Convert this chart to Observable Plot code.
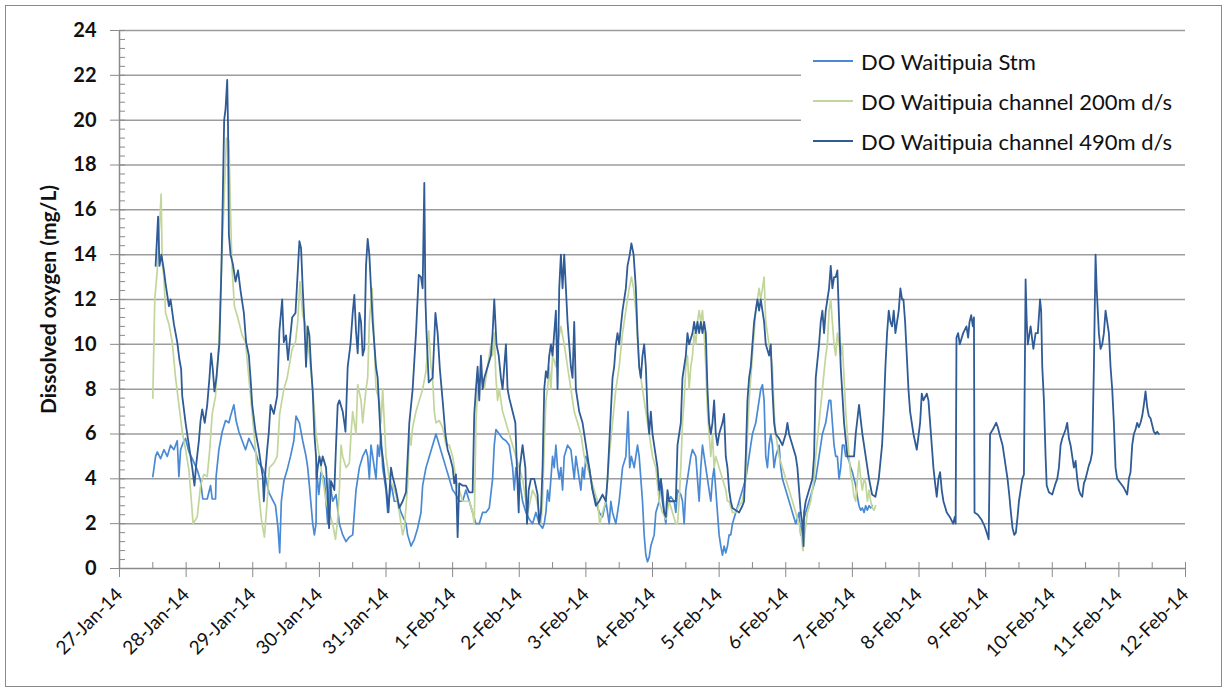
<!DOCTYPE html>
<html>
<head>
<meta charset="utf-8">
<script src="https://cdn.jsdelivr.net/npm/d3@7"></script>
<script src="https://cdn.jsdelivr.net/npm/@observablehq/plot@0.6"></script>
<style>
  html, body { margin: 0; padding: 0; background: #fff; }
  #wrap { position: relative; width: 1226px; height: 690px; font-family: Lato, sans-serif; }
  #frame { position: absolute; left: 5px; top: 5px; width: 1215px; height: 680px; border: 1px solid #8a8a8a; pointer-events: none; }
  #legend { position: absolute; left: 801px; top: 40px; width: 388px; height: 116px; background: #fff; }
  .item { position: absolute; left: 12px; height: 24px; display: flex; align-items: center; font-size: 22px; color: #111; white-space: nowrap; }
  .item svg { margin-right: 8px; }
</style>
</head>
<body>
<div id="wrap">
  <div id="chart"></div>
  <div id="legend"></div>
  <div id="frame"></div>
</div>
<script>
// hours since 27-Jan-14 00:00, dissolved oxygen (mg/L)
const seriesNames = ["DO Waitipuia Stm", "DO Waitipuia channel 200m d/s", "DO Waitipuia channel 490m d/s"];
const seriesColors = ["#4a8ad4", "#c2d69b", "#2f5b96"];

const stm = [[12.0,4.1],[13.0,5.0],[13.6,5.2],[14.8,4.9],[16.0,5.3],[17.2,5.0],[18.4,5.5],[19.6,5.3],[20.8,5.7],[21.4,4.1],[22.0,5.3],[23.2,5.7],[23.8,5.8],[25.0,5.2],[26.2,4.9],[28.0,4.4],[29.2,3.9],[30.0,3.1],[31.6,3.1],[32.8,3.7],[33.4,3.1],[34.6,3.1],[34.8,4.1],[35.8,5.3],[37.0,6.1],[38.2,6.6],[39.4,6.5],[40.0,6.8],[41.2,7.3],[42.0,6.6],[43.0,6.1],[44.2,5.7],[45.4,5.3],[46.6,5.8],[47.8,5.5],[49.0,5.2],[50.2,4.7],[51.4,4.5],[52.6,4.1],[53.8,3.4],[55.0,3.1],[56.2,2.8],[57.1,1.8],[57.7,0.7],[58.3,3.0],[59.2,3.9],[60.4,4.4],[61.6,5.0],[62.8,5.7],[63.6,6.8],
[64.8,6.5],[66.0,5.7],[67.2,5.0],[67.8,4.5],[68.4,3.7],[69.6,2.0],[70.2,1.5],[70.8,2.0],[71.0,4.4],[71.8,3.3],[72.6,4.3],[73.8,4.0],[75.0,2.0],[75.6,4.0],[76.8,3.0],[78.0,3.3],[79.2,2.0],[80.4,1.5],[81.6,1.2],[82.8,1.4],[84.0,1.5],[84.6,2.5],[85.2,3.5],[86.4,4.5],[87.6,5.0],[88.8,5.3],[89.4,5.0],[90.0,4.0],[90.6,5.5],[91.2,5.0],[92.4,4.0],[93.0,5.5],[93.6,5.0],[94.2,6.0],[94.8,4.5],[96.0,3.5],[96.6,2.5],[97.8,3.8],[99.0,3.0],[100.2,3.0],[101.4,2.5],[103.2,2.0],[103.8,1.5],[105.0,1.0],[106.2,1.3],[107.4,1.8],[108.6,2.5],[109.2,3.7],[110.4,4.5],[111.6,5.0],[112.8,5.5],[114.0,6.0],[115.2,5.5],[116.4,5.0],[117.6,4.5],[118.8,4.0],[120.0,3.5],[121.2,3.3],[122.4,3.0],[123.6,3.0],[124.8,3.5],[126.0,3.0],[127.2,2.5],
[128.4,2.0],[129.6,2.0],[130.8,2.5],[132.0,2.5],[133.2,2.7],[134.4,4.0],[135.0,5.5],[135.6,6.2],[136.8,6.0],[138.0,5.8],[139.2,5.7],[140.4,5.5],[141.6,4.5],[142.2,3.5],[142.8,4.5],[143.4,4.0],[144.0,4.0],[145.2,3.0],[146.4,2.5],[147.6,2.2],[148.8,2.0],[150.0,2.5],[151.2,2.0],[152.4,1.8],[153.0,2.0],[153.6,2.5],[154.2,3.5],[154.8,3.0],[155.4,4.0],[156.0,5.0],[156.6,4.5],[157.2,5.5],[157.8,4.5],[158.4,4.0],[159.0,4.5],[159.6,3.5],[160.2,5.0],[161.4,5.5],[162.6,5.3],[163.8,4.0],[164.4,5.0],[165.6,4.0],[166.2,3.5],[166.8,4.5],[167.4,4.0],[168.0,5.0],[169.2,4.5],[170.4,3.5],[171.6,3.0],[172.8,2.5],[174.0,2.3],[175.2,3.0],[176.4,2.0],[177.0,3.0],[177.6,2.5],[178.8,2.0],[180.0,3.0],[181.2,4.5],[182.4,5.0],[183.2,7.0],[183.8,4.5],[184.4,5.0],[185.4,4.5],[186.6,5.5],[187.2,5.0],[187.8,4.0],[188.4,3.0],[189.0,1.5],[189.6,0.6],[190.2,0.3],[190.8,0.5],[191.4,1.0],[192.6,1.5],[193.2,2.5],
[194.4,3.0],[195.0,4.0],[195.6,3.5],[196.2,2.5],[196.8,2.0],[197.4,3.0],[198.6,3.2],[199.8,3.0],[200.4,2.5],[201.0,3.5],[202.2,3.3],[202.8,3.0],[203.4,2.0],[204.0,3.5],[204.6,4.0],[205.2,4.5],[205.8,5.0],[206.4,5.3],[207.6,5.0],[208.2,4.0],[208.8,3.0],[209.4,4.5],[210.0,5.5],[210.6,5.0],[211.2,4.5],[212.4,3.5],[213.0,3.0],[213.6,4.0],[214.2,4.5],[214.8,3.5],[215.4,2.5],[216.0,1.5],[216.6,1.0],[217.2,0.6],[217.8,1.0],[218.4,0.7],[219.0,1.0],[219.6,1.5],[220.2,1.5],[220.8,2.0],[222.0,2.5],[223.2,3.0],[224.4,3.5],[225.6,4.0],[226.8,5.0],[228.0,6.0],[229.2,6.5],[230.4,7.5],[231.0,8.0],[231.6,8.2],[232.2,7.5],[232.8,5.0],[233.4,4.5],[234.0,5.5],[234.6,6.0],[235.2,5.5],[235.8,4.5],[236.4,5.0],[237.6,5.5],[238.2,4.5],[238.8,4.0],[240.0,3.5],[241.2,3.0],[242.4,2.5],[243.6,2.0],[244.8,2.5],[245.4,1.5],[246.0,2.0],[247.2,2.5],[248.4,3.0],[249.6,3.5],[250.8,4.0],[252.0,5.0],[253.2,6.0],[254.4,6.5],[255.6,7.5],[256.2,7.5],[256.8,6.5],[257.4,5.5],[258.0,5.0],
[258.6,5.0],[259.2,4.0],[259.8,4.5],[260.4,5.5],[261.0,5.5],[261.6,5.0],[262.2,5.0],[262.8,4.8],[263.4,4.5],[264.0,4.3],[264.6,4.0],[265.2,3.7],[265.8,3.2],[266.4,2.8],[267.0,2.6],[267.6,2.7],[268.2,2.5],[268.8,2.8],[269.4,2.6],[270.0,2.8],[270.6,2.7],[271.2,2.8]];

const ch200 = [[12.0,7.6],[12.7,12.0],[13.6,13.3],[15.0,16.7],[15.4,13.6],[16.0,13.0],[16.6,11.4],[17.8,10.9],[19.0,10.1],[20.2,8.5],[21.4,7.3],[22.6,6.1],[23.8,5.3],[25.0,4.4],[25.9,3.0],[26.5,2.0],[28.0,2.3],[29.2,3.7],[30.4,4.2],[31.6,4.1],[32.5,5.3],[33.4,6.9],[34.6,7.7],[35.8,10.1],[36.7,13.3],[37.6,16.2],[38.5,19.2],[39.4,19.1],[40.2,14.9],[40.6,13.3],[41.4,11.7],[42.6,11.2],[44.2,10.4],[45.4,10.1],[46.6,8.5],[47.8,6.9],[49.0,5.3],[49.9,3.7],[51.1,2.2],[52.2,1.4],[53.2,3.0],[54.0,4.5],[55.6,4.7],[56.8,5.0],[57.7,6.9],[59.2,8.0],[60.4,8.5],[62.2,9.8],[63.4,10.1],
[64.2,11.0],[65.0,12.8],[66.0,11.3],[67.2,10.8],[68.4,9.5],[69.6,8.0],[70.8,6.0],[72.0,5.0],[73.2,4.0],[74.4,3.0],[75.6,2.5],[76.8,2.0],[77.8,1.3],[78.6,2.2],[79.2,3.5],[79.8,5.5],[80.4,5.0],[81.6,4.5],[82.8,4.7],[83.4,6.0],[84.0,7.0],[85.2,6.0],[85.8,8.2],[87.0,7.5],[87.6,6.5],[88.8,8.0],[89.4,8.5],[90.0,11.0],[91.0,12.5],[91.8,10.0],[92.4,8.0],[93.6,7.5],[94.2,6.5],[94.8,8.0],[96.0,5.0],[97.2,4.0],[98.4,3.7],[99.6,3.3],[100.8,2.5],[102.0,1.5],[102.6,1.8],[103.8,3.7],[104.4,6.0],[105.0,5.5],[105.6,6.3],[106.8,7.0],[108.0,7.5],[109.2,8.0],[110.4,8.8],[111.4,10.6],[112.2,9.0],[112.8,8.5],[113.4,7.0],[114.0,6.5],[115.2,6.6],[116.4,6.3],[117.6,5.5],[118.8,5.5],[120.0,5.0],[121.2,4.0],[122.4,3.5],[123.6,3.0],[124.8,3.0],[126.0,3.0],[127.2,2.5],[127.8,2.0],
[128.4,6.5],[129.0,8.0],[130.2,8.5],[131.4,8.0],[132.6,9.0],[133.8,10.0],[134.4,9.5],[135.0,10.5],[135.6,8.5],[136.2,7.5],[136.8,8.0],[138.0,7.0],[139.2,6.5],[140.4,6.0],[141.6,5.5],[142.8,5.0],[144.0,4.5],[145.2,4.0],[146.4,3.0],[147.0,2.5],[147.6,2.8],[148.8,3.5],[150.0,3.2],[151.2,2.5],[151.8,2.0],[152.4,3.0],[153.0,5.5],[153.6,7.5],[154.2,8.0],[154.8,9.0],[155.4,8.0],[156.0,9.5],[157.2,9.0],[157.8,10.0],[159.0,10.8],[160.2,10.0],[161.4,9.0],[162.6,8.0],[163.8,7.0],[165.0,6.5],[166.2,6.0],[167.4,5.0],[168.6,4.5],[169.8,4.0],[171.0,3.5],[172.2,3.0],[173.0,2.0],[174.0,2.5],[175.2,3.0],[176.4,5.0],[177.6,6.5],[178.8,8.0],[180.0,9.0],[181.2,10.5],[182.4,11.5],[183.6,12.5],[184.4,13.0],[185.2,12.5],[186.0,11.5],[187.2,9.0],[188.4,8.0],[189.6,7.0],[190.8,6.0],[192.0,5.0],[193.2,4.5],
[194.4,3.0],[195.6,2.5],[196.8,2.2],[198.0,3.0],[199.2,2.5],[200.4,2.0],[201.0,2.0],[201.6,3.0],[202.2,4.5],[202.8,6.5],[203.4,7.5],[204.0,9.0],[204.6,9.5],[205.2,8.0],[205.8,9.0],[206.4,9.5],[207.0,10.5],[207.6,10.0],[208.2,11.0],[208.8,11.5],[209.4,11.0],[210.0,11.5],[210.6,10.5],[211.2,9.0],[211.8,7.0],[212.4,6.0],[213.0,5.0],[213.6,6.0],[214.2,4.5],[214.8,5.0],[216.0,4.5],[217.2,4.0],[218.4,3.5],[219.0,3.0],[219.6,3.0],[220.8,2.5],[222.0,2.5],[223.2,2.8],[224.4,3.0],[225.6,4.0],[226.2,6.0],[226.8,7.5],[227.4,8.5],[228.0,9.5],[228.6,10.5],[229.2,11.5],[229.8,12.0],[230.4,12.5],[231.0,12.0],[231.6,12.5],[232.2,13.0],[232.8,11.0],[234.0,10.0],[235.2,9.0],[235.8,7.0],[236.4,6.0],[237.6,5.0],[238.8,4.5],[240.0,4.0],[241.2,3.5],[242.4,3.0],[243.6,2.5],[244.8,2.0],[245.6,1.5],[246.2,0.8],[246.8,1.5],[247.8,2.5],[249.0,3.0],[250.2,4.0],[250.8,5.0],[252.0,6.5],[253.2,8.0],[254.4,9.5],[255.0,10.0],[255.6,11.5],[256.2,12.0],[256.8,11.0],[257.4,10.0],[258.0,9.5],
[258.6,10.5],[259.8,9.5],[260.4,10.0],[261.0,8.5],[261.6,7.0],[262.2,6.0],[262.8,5.0],[263.4,4.2],[264.0,3.8],[264.6,3.2],[265.2,3.0],[265.8,4.0],[266.4,4.8],[267.0,4.0],[267.6,3.5],[268.2,4.0],[268.8,3.8],[269.4,3.0],[270.0,3.5],[270.6,3.0],[271.2,2.7],[271.8,2.6],[272.4,2.8]];

const ch490 = [[13.0,13.5],[13.9,15.7],[14.4,13.5],[15.1,14.0],[16.0,13.3],[16.6,12.7],[17.8,11.7],[18.4,12.0],[19.6,10.9],[20.8,10.1],[21.6,9.3],[22.2,8.9],[22.6,7.7],[23.8,6.5],[25.0,5.5],[26.2,4.5],[27.0,3.7],[27.6,4.6],[28.6,5.7],[29.2,6.6],[29.8,7.1],[30.7,6.5],[31.6,7.3],[32.4,8.5],[33.0,9.6],[33.6,8.9],[34.2,7.9],[34.9,8.5],[36.0,10.1],[36.7,13.3],[37.2,16.5],[37.7,20.0],[38.2,20.5],[38.8,21.8],[39.1,19.7],[39.4,14.9],[40.0,14.0],[40.8,13.6],[41.8,12.8],[42.7,13.3],[43.6,12.4],[44.8,11.4],[45.6,10.1],[46.6,9.5],[47.2,8.5],[47.8,7.3],[49.0,6.1],[50.2,5.3],[51.1,4.5],[51.6,4.1],[52.0,3.0],[52.6,4.4],[53.2,5.3],[53.8,6.1],[54.4,7.3],[55.6,6.9],[56.8,7.7],[57.6,10.6],[58.6,12.0],[59.2,10.1],[60.0,10.4],[60.7,9.3],[62.2,11.2],[63.4,11.4],
[64.8,14.6],[65.4,14.3],[66.0,12.5],[66.6,11.0],[67.2,9.0],[67.8,10.8],[68.4,10.4],[69.0,9.0],[69.6,7.9],[70.2,6.0],[70.8,5.0],[71.0,4.0],[71.4,4.5],[72.0,5.0],[72.6,4.6],[73.2,5.0],[74.4,4.5],[75.0,3.2],[75.5,1.8],[76.2,3.9],[77.4,3.5],[78.0,5.5],[78.6,7.3],[79.2,7.5],[80.4,7.0],[81.0,6.5],[81.4,6.1],[82.2,9.0],[83.2,10.0],[84.0,11.4],[84.6,12.2],[85.2,10.6],[85.8,9.6],[86.4,11.4],[87.0,11.0],[87.6,9.5],[88.2,9.8],[88.8,13.5],[89.4,14.7],[90.0,14.0],[90.6,12.5],[91.2,11.0],[92.4,9.0],[93.0,8.5],[93.6,7.0],[94.2,5.5],[94.8,5.0],[95.4,4.3],[96.0,3.7],[96.9,2.5],[97.2,3.3],[97.8,4.5],[98.4,4.1],[99.6,3.5],[100.8,2.7],[102.0,3.0],[103.2,3.4],[104.4,6.5],[105.6,8.0],[106.8,10.5],[107.8,13.1],[108.6,13.0],[109.2,12.5],[109.8,17.2],[110.2,12.0],[110.6,10.5],[111.4,8.3],[112.8,8.5],[113.8,11.4],[114.6,10.5],[115.4,8.9],[116.4,7.5],[117.4,6.0],[118.2,5.3],[119.0,5.0],[120.0,4.5],[120.6,3.8],[121.2,4.2],[121.8,1.4],[122.4,3.8],[123.6,3.7],[124.8,3.7],[126.0,3.4],[127.2,3.4],[127.8,6.9],
[128.4,8.0],[129.0,9.0],[129.6,7.5],[130.2,9.5],[130.8,8.0],[131.4,8.5],[132.6,9.0],[133.8,9.5],[134.4,10.5],[135.0,12.0],[135.4,11.0],[135.8,10.0],[136.6,9.5],[137.4,8.5],[138.0,8.0],[138.6,9.0],[139.2,10.0],[139.8,8.0],[140.4,7.6],[141.6,7.0],[142.6,6.5],[143.0,5.0],[143.8,2.5],[144.2,4.5],[145.2,5.5],[146.2,4.5],[146.8,2.0],[147.4,3.5],[148.2,4.0],[149.4,4.0],[150.6,3.3],[151.2,2.0],[151.8,2.5],[152.4,4.5],[153.0,8.0],[153.6,8.8],[154.2,8.5],[154.8,9.5],[155.4,10.0],[156.0,9.5],[156.6,10.5],[157.2,11.5],[157.8,8.0],[158.4,12.5],[159.0,14.0],[159.6,12.5],[160.2,14.0],[160.8,12.5],[161.4,11.0],[162.0,10.0],[162.6,9.0],[163.2,8.5],[163.8,11.0],[164.4,8.0],[165.6,7.0],[166.8,6.5],[168.0,5.5],[169.2,4.5],[170.4,3.5],[171.6,2.8],[172.8,3.0],[174.0,3.3],[175.2,3.0],[175.8,4.0],[176.4,5.5],[177.6,8.5],[178.2,9.0],[178.8,10.0],[179.4,10.5],[180.0,10.0],[180.6,10.8],[181.2,11.5],[182.4,12.5],[183.0,13.5],[183.8,14.0],[184.4,14.5],[185.2,14.0],[186.0,12.5],[186.6,10.5],[187.2,9.0],[187.8,8.5],[188.4,9.5],[189.0,10.0],[189.6,9.0],[190.2,7.0],[190.8,6.0],[191.4,7.0],[192.0,6.0],[193.2,5.0],
[193.8,4.5],[194.4,3.5],[195.0,4.0],[195.6,3.0],[196.2,2.5],[196.8,2.3],[197.4,3.5],[198.0,3.0],[199.2,3.0],[200.4,3.0],[201.0,5.5],[201.6,6.0],[202.2,6.5],[202.8,8.5],[203.4,9.0],[204.0,9.5],[204.6,10.5],[205.2,10.0],[206.4,10.5],[207.0,11.0],[207.6,10.5],[208.2,11.0],[208.8,10.5],[209.4,11.0],[210.0,10.5],[210.6,11.0],[211.2,10.5],[211.8,8.0],[212.4,6.5],[213.0,6.0],[213.6,6.5],[214.2,7.5],[214.8,6.0],[215.4,5.5],[216.0,6.0],[217.2,6.5],[217.8,6.9],[218.4,5.0],[219.0,4.5],[219.6,3.5],[220.2,3.0],[220.8,2.7],[222.0,2.6],[223.2,2.5],[224.4,2.8],[225.0,3.0],[225.6,5.0],[226.2,7.5],[226.8,8.5],[227.4,9.0],[228.0,10.0],[228.6,11.0],[229.2,11.5],[229.8,12.0],[230.4,11.5],[231.0,12.0],[231.6,11.5],[232.2,11.0],[232.8,10.0],[234.0,9.5],[234.6,10.0],[235.2,8.0],[235.8,6.5],[236.4,6.0],[237.6,5.8],[238.8,5.5],[240.0,6.0],[240.6,6.5],[241.2,6.0],[242.4,5.5],[243.6,5.0],[244.2,4.5],[244.8,3.5],[245.4,2.5],[246.0,2.0],[246.4,1.0],[246.6,2.5],[247.2,3.0],[248.4,3.5],[249.6,4.0],[250.2,5.0],[250.8,8.5],[252.0,10.0],[252.6,11.0],[253.2,11.5],[253.8,10.5],[254.4,11.5],[255.0,12.0],[255.6,12.5],[256.2,13.5],[256.8,12.5],[257.4,13.0],[258.0,13.0],
[258.6,13.3],[259.8,9.0],[261.0,6.5],[262.2,5.0],[263.4,5.0],[264.6,5.0],[265.2,6.0],[266.4,7.3],[267.6,6.0],[268.8,5.0],[270.0,4.0],[271.1,3.3],[272.3,3.2],[273.5,4.0],[274.7,5.5],[275.3,7.0],[275.9,9.0],[276.5,10.5],[277.1,11.5],[277.7,11.0],[278.3,10.8],[278.9,11.5],[279.5,10.5],[280.1,11.0],[280.7,11.5],[281.3,12.5],[281.9,12.0],[282.4,12.0],[283.0,11.0],[283.6,9.5],[284.2,8.0],[284.8,7.0],[286.0,6.0],[287.2,5.3],[288.4,6.5],[289.0,7.8],[289.6,7.5],[290.8,7.8],[291.4,7.5],[292.0,6.5],[292.6,5.5],[293.2,4.5],[293.8,3.8],[294.4,3.2],[295.0,4.0],[295.6,4.3],[296.2,3.5],[296.8,3.0],[298.0,2.5],[299.1,2.3],[300.3,2.0],[300.9,2.3],[301.2,2.0],[301.5,10.3],[302.1,10.5],[302.7,10.0],[303.9,10.5],[305.1,10.8],[305.7,10.3],[306.2,11.0],[306.8,11.3],[307.4,10.8],[307.8,11.2],[308.0,2.5],[309.2,2.4],[310.4,2.2],[311.6,1.9],[312.4,1.6],[313.1,1.3],[313.6,6.0],[314.6,6.2],[315.8,6.5],[316.4,6.3],[317.0,6.0],[318.1,5.5],[318.7,5.0],[319.3,4.5],[319.9,4.0],[320.5,3.3],[321.1,2.5],[321.7,1.8],[322.3,1.5],[322.9,1.6],[323.5,2.3],
[324.0,3.0],[324.6,3.5],[325.2,4.0],[325.8,4.2],[326.4,12.9],[326.8,11.0],[327.2,10.0],[328.2,10.8],[329.2,9.8],[330.0,10.5],[330.8,10.5],[331.6,12.0],[332.0,11.5],[332.4,9.0],[333.0,7.5],[333.6,5.0],[334.0,3.7],[334.8,3.4],[336.0,3.3],[337.2,3.8],[337.8,4.0],[338.4,4.5],[339.0,5.5],[339.6,5.8],[340.2,6.0],[340.8,6.2],[341.4,6.5],[342.0,5.8],[342.6,5.5],[343.2,5.0],[343.8,4.5],[344.4,4.8],[345.0,4.0],[345.6,3.5],[346.2,3.3],[346.8,3.2],[347.4,3.8],[348.0,4.0],[348.6,4.3],[349.2,4.6],[349.8,4.8],[350.4,5.2],[351.0,9.0],[351.6,14.0],[352.0,12.5],[352.8,10.5],[353.4,9.8],[354.0,10.0],[354.6,10.5],[355.2,11.5],[355.8,11.0],[356.4,10.5],[357.0,9.0],[357.6,8.0],[358.2,6.5],[358.8,4.5],[359.4,4.0],[360.6,3.8],[361.8,3.6],[363.0,3.3],[363.6,4.0],[364.2,4.3],[364.8,5.5],[365.4,6.0],[366.0,6.2],[366.6,6.5],[367.2,6.3],[367.8,6.5],[368.4,6.8],[369.0,7.3],[369.6,7.9],[370.2,7.2],[370.8,6.8],[371.4,6.7],[372.0,6.4],[372.6,6.1],[373.2,6.0],[373.8,6.1],[374.4,6.0]];

const yTickValues = [0, 2, 4, 6, 8, 10, 12, 14, 16, 18, 20, 22, 24];
const startDate = "2014-01-27";
const endDate = "2014-02-12";

const t0 = new Date(startDate + "T00:00Z");
const t1 = new Date(endDate + "T00:00Z");
const toRows = (pairs) => pairs.map(([h, v]) => ({date: new Date(+t0 + h * 3600000), value: v}));
const rows = [stm, ch200, ch490].map(toRows);

const days = d3.utcDay.range(t0, new Date(+t1 + 1));
const halfDays = d3.utcHour.every(12).range(t0, new Date(+t1 + 1));
const minorY = d3.range(0, 61).map(i => +(i * 0.4).toFixed(1));

const W = 1226, H = 690, ML = 119, MR = 41, MT = 30, MB = 122;
const frameW = W - ML - MR, frameH = H - MT - MB;
const axisColor = "#8a8a8a";

const chart = Plot.plot({
  width: W, height: H,
  marginLeft: ML, marginRight: MR, marginTop: MT, marginBottom: MB,
  style: {fontFamily: "Lato, sans-serif", background: "#fff", color: "#111"},
  x: {type: "utc", domain: [t0, t1]},
  y: {domain: [0, 24]},
  marks: [
    Plot.ruleY(yTickValues.filter(d => d > 0), {stroke: "#9c9c9c", strokeWidth: 1.5}),
    Plot.line(rows[0], {x: "date", y: "value", stroke: seriesColors[0], strokeWidth: 1.7}),
    Plot.line(rows[1], {x: "date", y: "value", stroke: seriesColors[1], strokeWidth: 1.7}),
    Plot.line(rows[2], {x: "date", y: "value", stroke: seriesColors[2], strokeWidth: 1.8}),
    // axis lines
    Plot.ruleX([t0], {stroke: axisColor, strokeWidth: 1.5}),
    Plot.ruleY([0], {stroke: axisColor, strokeWidth: 1.5}),
    // inner ticks
    Plot.tickY(minorY, {y: d => d, stroke: axisColor, insetRight: frameW - 6}),
    Plot.tickX(halfDays, {x: d => d, stroke: axisColor, insetTop: frameH - 6}),
    // outer ticks + labels
    Plot.axisY(yTickValues, {tickSize: 9, tickPadding: 14, tickFormat: d => String(d), fontSize: 20, fontWeight: "bold", stroke: axisColor, fill: "#111", label: null}),
    Plot.axisX(days, {tickSize: 9, tickPadding: 14, tickRotate: -45, tickFormat: d3.utcFormat("%-d-%b-%y"), fontSize: 19, stroke: axisColor, fill: "#111", label: null}),
    Plot.text(["Dissolved oxygen (mg/L)"], {frameAnchor: "left", dx: -70, rotate: -90, textAnchor: "middle", fontSize: 21, fontWeight: "bold", fill: "#111"})
  ]
});
document.getElementById("chart").appendChild(chart);

// legend
const legend = document.getElementById("legend");
const itemTops = [9, 49, 89];
seriesNames.forEach((name, i) => {
  const div = document.createElement("div");
  div.className = "item";
  div.style.top = itemTops[i] + "px";
  div.innerHTML = `<svg width="40" height="4"><line x1="0" y1="2" x2="40" y2="2" stroke="${seriesColors[i]}" stroke-width="2"/></svg>`;
  const span = document.createElement("span");
  span.textContent = name;
  div.appendChild(span);
  legend.appendChild(div);
});
</script>
</body>
</html>
